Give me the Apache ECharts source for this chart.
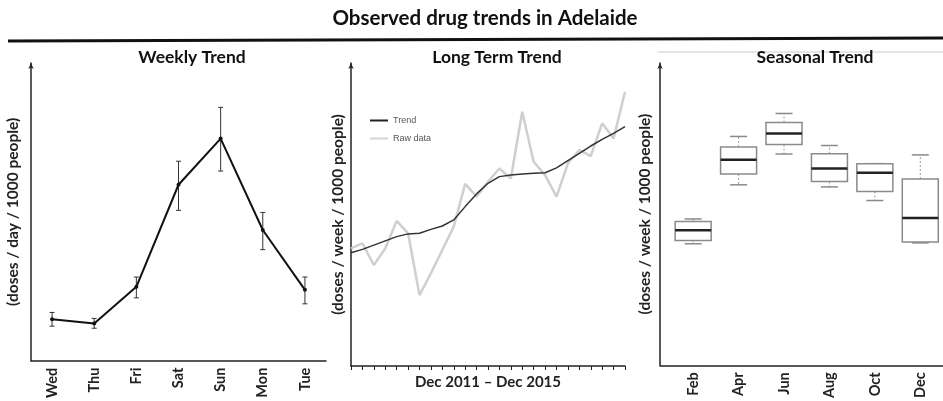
<!DOCTYPE html>
<html><head><meta charset="utf-8">
<script src="https://cdn.jsdelivr.net/npm/echarts@6/dist/echarts.min.js"></script>
<style>html,body{margin:0;padding:0;background:#fff}#c{width:943px;height:401px}</style>
</head><body><div id="c"></div>
<script>
const mainTitle = 'Observed drug trends in Adelaide';
const panelTitles = ['Weekly Trend', 'Long Term Trend', 'Seasonal Trend'];

const weeklyDays = ['Wed', 'Thu', 'Fri', 'Sat', 'Sun', 'Mon', 'Tue'];
const weeklyMean = [13.9, 12.5, 24.8, 59.1, 74.6, 43.9, 23.8];
const weeklyLow  = [11.6, 10.9, 21.1, 50.5, 63.7, 37.3, 19.1];
const weeklyHigh = [16.2, 14.2, 28.1, 67.0, 85.1, 49.8, 28.1];

const longPeriods = ['Dec 2011', 'Feb 2012', 'Apr 2012', 'Jun 2012', 'Aug 2012', 'Oct 2012',
  'Dec 2012', 'Feb 2013', 'Apr 2013', 'Jun 2013', 'Aug 2013', 'Oct 2013',
  'Dec 2013', 'Feb 2014', 'Apr 2014', 'Jun 2014', 'Aug 2014', 'Oct 2014',
  'Dec 2014', 'Feb 2015', 'Apr 2015', 'Jun 2015', 'Aug 2015', 'Oct 2015', 'Dec 2015'];
const longRaw   = [38.8, 40.5, 33.3, 38.8, 47.9, 43.8, 23.4, 30.6, 38.3, 46.0, 60.1, 55.9,
  60.8, 65.2, 61.9, 83.9, 67.4, 63.0, 55.9, 66.9, 71.3, 69.3, 80.1, 75.1, 90.5];
const longTrend = [37.4, 38.5, 39.9, 41.3, 42.7, 43.6, 43.8, 45.1, 46.2, 48.2, 52.6, 56.8,
  60.3, 62.5, 63.0, 63.4, 63.6, 63.8, 65.4, 67.8, 70.2, 72.6, 74.8, 76.8, 79.0];

const seasonMonths = ['Feb', 'Apr', 'Jun', 'Aug', 'Oct', 'Dec'];
const seasonMin    = [40.2, 59.7, 69.9, 59.0, 54.5, 40.5];
const seasonQ1     = [41.3, 63.3, 73.0, 60.8, 57.5, 40.8];
const seasonMedian = [44.7, 68.0, 76.7, 65.1, 63.7, 48.7];
const seasonQ3     = [47.6, 72.2, 80.3, 70.0, 66.7, 61.6];
const seasonMax    = [48.4, 75.7, 83.3, 72.7, 66.7, 69.6];

const FONT = 'Lato';
const chart = echarts.init(document.getElementById('c'));

function yAx(gridIndex, name, gap) {
  return {
    type: 'value', gridIndex, min: 0, max: 100,
    axisLine: { show: true, onZero: false, symbol: ['none', 'arrow'], symbolSize: [4, 6], lineStyle: { color: '#222', width: 1.5 } },
    axisTick: { show: false }, axisLabel: { show: false }, splitLine: { show: false },
    name, nameLocation: 'middle', nameGap: gap, nameRotate: 90,
    nameTextStyle: { fontFamily: FONT, fontWeight: 'bold', fontSize: 15.5, color: '#222' }
  };
}
const xLabel = { rotate: 90, fontFamily: FONT, fontWeight: 'bold', fontSize: 14.5, color: '#222', margin: 7 };
const subTitle = { fontFamily: FONT, fontWeight: 'bold', fontSize: 17.5, color: '#111' };

const option = {
  backgroundColor: '#fff',
  animation: false,
  title: [
    { text: mainTitle, left: 485, top: 8, textAlign: 'center', padding: 0,
      textStyle: { fontFamily: FONT, fontWeight: 'bold', fontSize: 20.5, color: '#111' } },
    { text: panelTitles[0], left: 192, top: 48, textAlign: 'center', padding: 0, textStyle: subTitle },
    { text: panelTitles[1], left: 497, top: 48, textAlign: 'center', padding: 0, textStyle: subTitle },
    { text: panelTitles[2], left: 815, top: 48, textAlign: 'center', padding: 0, textStyle: subTitle }
  ],
  graphic: [
    { type: 'line', shape: { x1: 8, y1: 41, x2: 943, y2: 38 }, style: { stroke: '#111', lineWidth: 3 } },
    { type: 'line', shape: { x1: 658, y1: 52, x2: 943, y2: 52 }, style: { stroke: '#ccc', lineWidth: 1 } }
  ],
  legend: {
    data: [{ name: 'Trend', icon: 'rect' }, { name: 'Raw data', icon: 'rect' }],
    orient: 'vertical', left: 370, top: 115, padding: 0,
    itemWidth: 18, itemHeight: 2, itemGap: 7,
    textStyle: { fontFamily: 'Liberation Sans', fontSize: 9, color: '#555', lineHeight: 11 }
  },
  grid: [
    { left: 31, top: 63, width: 295, height: 303 },
    { left: 351, top: 63, width: 274, height: 303 },
    { left: 660, top: 63, width: 283, height: 304 }
  ],
  xAxis: [
    { type: 'category', gridIndex: 0, data: weeklyDays, boundaryGap: true,
      axisLine: { lineStyle: { color: '#222', width: 1.5 } }, axisTick: { show: false },
      axisLabel: Object.assign({ interval: 0 }, xLabel) },
    { type: 'category', gridIndex: 1, data: longPeriods, boundaryGap: false,
      axisLine: { lineStyle: { color: '#222', width: 1.5 } },
      axisTick: { show: true, interval: 0, length: 4, lineStyle: { color: '#222' } },
      axisLabel: { show: false },
      name: 'Dec 2011 \u2013 Dec 2015', nameLocation: 'middle', nameGap: 9,
      nameTextStyle: { fontFamily: FONT, fontWeight: 'bold', fontSize: 15, color: '#222', verticalAlign: 'top' } },
    { type: 'value', gridIndex: 2, min: -0.73, max: 5.5,
      axisLine: { onZero: false, lineStyle: { color: '#222', width: 1.5 } }, axisTick: { show: false },
      splitLine: { show: false },
      axisLabel: Object.assign({ customValues: [0, 1, 2, 3, 4, 5],
        formatter: v => seasonMonths[Math.round(v)] || '' }, xLabel) }
  ],
  yAxis: [
    yAx(0, '(doses / day / 1000 people)', 10),
    yAx(1, '(doses / week / 1000 people)', 5),
    yAx(2, '(doses / week / 1000 people)', 7)
  ],
  series: [
    { type: 'line', xAxisIndex: 0, yAxisIndex: 0, data: weeklyMean,
      lineStyle: { color: '#111', width: 2 }, itemStyle: { color: '#111' },
      symbol: 'circle', symbolSize: 4, showSymbol: true, z: 3 },
    { type: 'custom', xAxisIndex: 0, yAxisIndex: 0,
      data: weeklyDays.map((d, i) => [i, weeklyLow[i], weeklyHigh[i]]),
      renderItem: (params, api) => {
        const lo = api.coord([api.value(0), api.value(1)]);
        const hi = api.coord([api.value(0), api.value(2)]);
        const st = { stroke: '#333', lineWidth: 1 };
        return { type: 'group', children: [
          { type: 'line', shape: { x1: lo[0], y1: lo[1], x2: hi[0], y2: hi[1] }, style: st },
          { type: 'line', shape: { x1: lo[0] - 2.5, y1: lo[1], x2: lo[0] + 2.5, y2: lo[1] }, style: st },
          { type: 'line', shape: { x1: hi[0] - 2.5, y1: hi[1], x2: hi[0] + 2.5, y2: hi[1] }, style: st }
        ] };
      }, z: 2 },
    { name: 'Raw data', type: 'line', xAxisIndex: 1, yAxisIndex: 1, data: longRaw,
      symbol: 'none', lineStyle: { color: '#cfcfcf', width: 2.5 }, itemStyle: { color: '#d4d4d4' }, z: 2 },
    { name: 'Trend', type: 'line', xAxisIndex: 1, yAxisIndex: 1, data: longTrend,
      symbol: 'none', lineStyle: { color: '#333', width: 1.5 }, itemStyle: { color: '#222' }, z: 3 },
    { type: 'custom', xAxisIndex: 2, yAxisIndex: 2,
      data: seasonMonths.map((m, i) => [i, seasonMin[i], seasonQ1[i], seasonMedian[i], seasonQ3[i], seasonMax[i]]),
      renderItem: (params, api) => {
        const x = api.value(0);
        const pMin = api.coord([x, api.value(1)]);
        const pQ1 = api.coord([x, api.value(2)]);
        const pMed = api.coord([x, api.value(3)]);
        const pQ3 = api.coord([x, api.value(4)]);
        const pMax = api.coord([x, api.value(5)]);
        const cx = pMed[0], hw = 18, cw = 8.5;
        const grey = { stroke: '#8a8a8a', lineWidth: 1.5 };
        const dash = { stroke: '#9a9a9a', lineWidth: 1, lineDash: [2, 2] };
        return { type: 'group', children: [
          { type: 'line', shape: { x1: cx, y1: pQ3[1], x2: cx, y2: pMax[1] }, style: dash },
          { type: 'line', shape: { x1: cx, y1: pQ1[1], x2: cx, y2: pMin[1] }, style: dash },
          { type: 'line', shape: { x1: cx - cw, y1: pMax[1], x2: cx + cw, y2: pMax[1] }, style: grey },
          { type: 'line', shape: { x1: cx - cw, y1: pMin[1], x2: cx + cw, y2: pMin[1] }, style: grey },
          { type: 'rect', shape: { x: cx - hw, y: pQ3[1], width: 2 * hw, height: pQ1[1] - pQ3[1] },
            style: { fill: '#fff', stroke: '#8a8a8a', lineWidth: 1.5 } },
          { type: 'line', shape: { x1: cx - hw, y1: pMed[1], x2: cx + hw, y2: pMed[1] },
            style: { stroke: '#222', lineWidth: 2.5 } }
        ] };
      } }
  ]
};
chart.setOption(option);
</script>
</body></html>
